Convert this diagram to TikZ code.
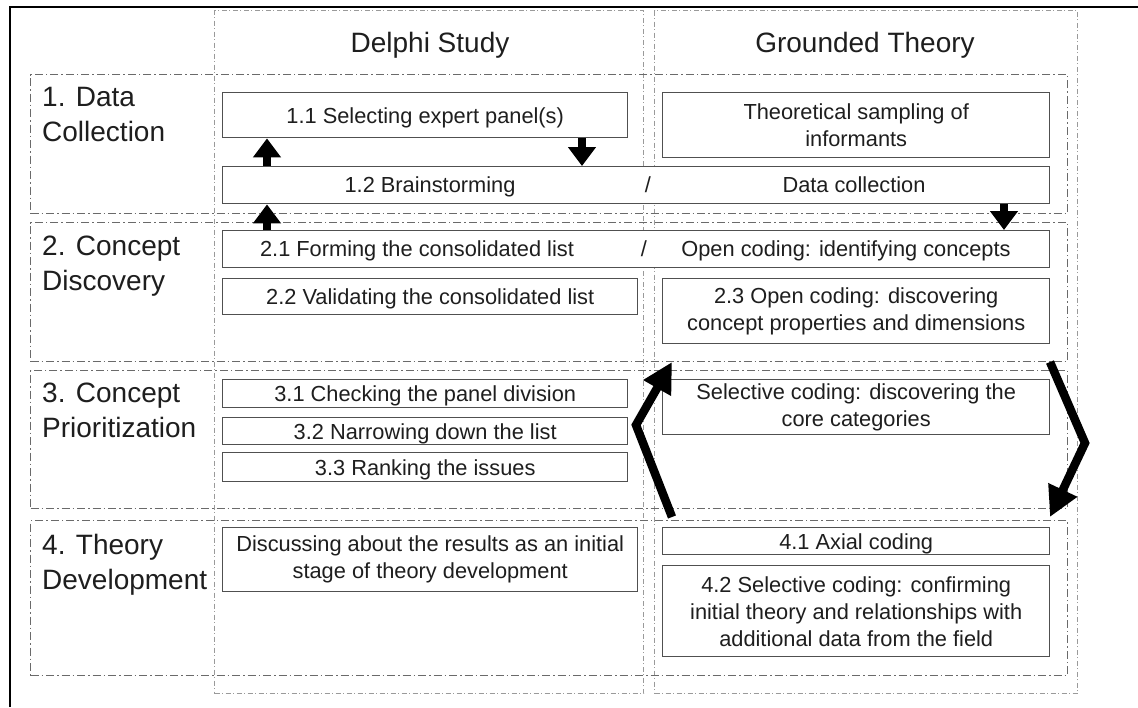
\documentclass[tikz,border=0pt]{standalone}
\usepackage{fontspec}
\setmainfont{Liberation Sans}
\usetikzlibrary{arrows.meta}
\definecolor{boxline}{HTML}{505050}
\definecolor{rowline}{HTML}{6A6A6A}
\definecolor{colline}{HTML}{9A9A9A}
\definecolor{txt}{HTML}{1E1E1E}
\begin{document}
\begin{tikzpicture}[x=1pt,y=-1pt,
  colbox/.style={draw=colline, line width=1.1pt, dash pattern=on 5pt off 2.5pt on 1pt off 2.5pt, inner sep=0pt, anchor=north west},
  rowbox/.style={draw=rowline, line width=1.3pt, dash pattern=on 8pt off 3pt on 1.5pt off 3pt, inner sep=0pt, anchor=north west},
  stepbox/.style={draw=boxline, fill=white, line width=1.4pt, inner sep=0pt, anchor=north west},
  boxtext/.style={text=txt, font=\fontsize{21.8}{27}\selectfont, align=center, inner sep=0pt},
  onetext/.style={boxtext, anchor=base, yshift=-7.8pt},
  rowlabel/.style={text=txt, font=\fontsize{28}{35}\selectfont, align=left, inner sep=0pt, anchor=north west},
  headtext/.style={text=txt, font=\fontsize{28}{34}\selectfont, inner sep=0pt, anchor=base},
  smallarr/.style={line width=7.5pt, -{Triangle[width=27pt,length=19pt]}},
  bigarr/.style={line width=8.5pt, line join=miter, -{Triangle[width=30pt,length=30pt]}}
]
\useasboundingbox (0,0) rectangle (1138,707);
\fill[white] (0,0) rectangle (1138,707);
% outer frame
\draw[line width=2.5pt] (10,707) -- (10,7) -- (1138,7);
% columns
\node[colbox, minimum width=429pt, minimum height=683pt] (c1) at (214,10) {};
\node[colbox, minimum width=423pt, minimum height=683pt] (c2) at (654,10) {};
% rows
\node[rowbox, minimum width=1037pt, minimum height=139pt] (r1) at (30,74) {};
\node[rowbox, minimum width=1037pt, minimum height=139pt] (r2) at (30,222) {};
\node[rowbox, minimum width=1037pt, minimum height=138pt] (r3) at (30,370) {};
\node[rowbox, minimum width=1037pt, minimum height=155pt] (r4) at (30,520) {};
% headers
\node[headtext] (h1) at (430,52) {Delphi Study};
\node[headtext] (h2) at (865,52) {Grounded Theory};
% row labels
\node[rowlabel] (l1) at (42,87) {1. Data\\Collection};
\node[rowlabel] (l2) at (42,236) {2. Concept\\Discovery};
\node[rowlabel] (l3) at (42,383) {3. Concept\\Prioritization};
\node[rowlabel] (l4) at (42,534) {4. Theory\\Development};
% boxes
\node[stepbox, minimum width=405pt, minimum height=45pt] (b11) at (222,92) {};
\node[onetext] at (b11.center) {1.1 Selecting expert panel(s)};
\node[stepbox, minimum width=387pt, minimum height=65pt] (bts) at (662,92) {};
\node[boxtext] at (bts.center) {Theoretical sampling of\\informants};
\node[stepbox, minimum width=827pt, minimum height=37pt] (b12) at (222,166) {};
\node[onetext] (t12a) at (430,184.5) {1.2 Brainstorming};
\node[onetext] (t12b) at (648,184.5) {/};
\node[onetext] (t12c) at (854,184.5) {Data collection};
\node[stepbox, minimum width=827pt, minimum height=37pt] (b21) at (222,230) {};
\node[onetext] (t21a) at (417,248.5) {2.1 Forming the consolidated list};
\node[onetext] (t21b) at (644,248.5) {/};
\node[onetext] (t21c) at (846,248.5) {Open coding: identifying concepts};
\node[stepbox, minimum width=415pt, minimum height=36pt] (b22) at (222,278) {};
\node[onetext] at (b22.center) {2.2 Validating the consolidated list};
\node[stepbox, minimum width=387pt, minimum height=65pt] (b23) at (662,278) {};
\node[boxtext] at (b23.center) {2.3 Open coding: discovering\\concept properties and dimensions};
\node[stepbox, minimum width=405pt, minimum height=28pt] (b31) at (222,379) {};
\node[onetext] at (b31.center) {3.1 Checking the panel division};
\node[stepbox, minimum width=405pt, minimum height=27pt] (b32) at (222,417) {};
\node[onetext] at (b32.center) {3.2 Narrowing down the list};
\node[stepbox, minimum width=405pt, minimum height=29pt] (b33) at (222,452) {};
\node[onetext] at (b33.center) {3.3 Ranking the issues};
\node[stepbox, minimum width=387pt, minimum height=55pt] (bsc) at (662,379) {};
\node[boxtext] at (bsc.center) {Selective coding: discovering the\\core categories};
\node[stepbox, minimum width=415pt, minimum height=64pt] (bdi) at (222,527) {};
\node[boxtext] at (bdi.center) {Discussing about the results as an initial\\stage of theory development};
\node[stepbox, minimum width=387pt, minimum height=27pt] (b41) at (662,527) {};
\node[onetext] at (b41.center) {4.1 Axial coding};
\node[stepbox, minimum width=387pt, minimum height=91pt] (b42) at (662,565) {};
\node[boxtext] at (b42.center) {4.2 Selective coding: confirming\\initial theory and relationships with\\additional data from the field};
% small arrows
\coordinate (xa) at (267,0);
\coordinate (xb) at (582,0);
\coordinate (xc) at (1004,0);
\draw[smallarr] (b12.north -| xa) -- (b11.south -| xa);
\draw[smallarr] (b11.south -| xb) -- (b12.north -| xb);
\draw[smallarr] (b21.north -| xa) -- (b12.south -| xa);
\draw[smallarr] (b12.south -| xc) -- (b21.north -| xc);
% big arrows
\coordinate (la1) at (672,517);
\coordinate (la2) at (636,425);
\coordinate (la3) at (672,362);
\coordinate (ra1) at (1050,362);
\coordinate (ra2) at (1085,443);
\coordinate (ra3) at (1050,517);
\draw[bigarr] (la1) -- (la2) -- (la3);
\draw[bigarr] (ra1) -- (ra2) -- (ra3);
\end{tikzpicture}
\end{document}
